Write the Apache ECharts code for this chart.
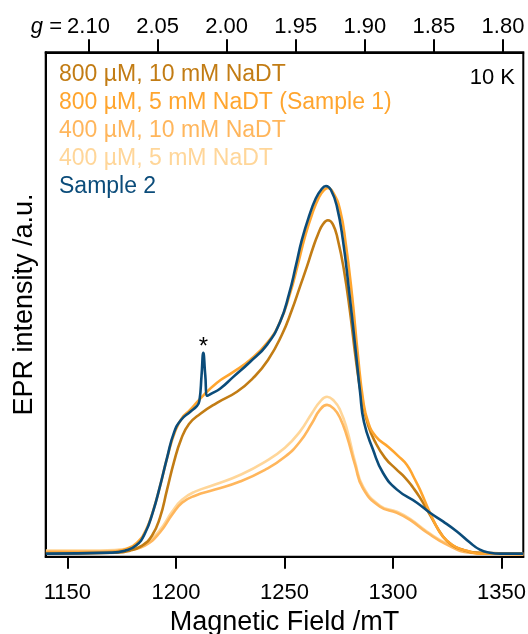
<!DOCTYPE html>
<html><head><meta charset="utf-8">
<script src="https://cdn.jsdelivr.net/npm/echarts@6/dist/echarts.min.js"></script>
<style>html,body{margin:0;padding:0;background:#fff}#c{width:528px;height:634px}</style>
</head><body><div id="c"></div>
<script>
// Magnetic field (mT) and EPR intensity (a.u., 0-100 scale)
const field800_10 = [1140.1,1171.9,1178.8,1184.4,1189.0,1192.6,1195.9,1199.1,1202.3,1206.0,1211.1,1218.9,1228.1,1235.5,1242.4,1248.8,1253.4,1257.1,1260.4,1263.1,1265.4,1267.7,1270.0,1272.3,1274.6,1277.4,1280.2,1282.9,1285.7,1288.5,1291.7,1296.3,1301.3,1305.5,1309.2,1312.4,1317.0,1323.0,1327.6,1332.2,1337.7,1360];
const int800_10 = [0.6,0.8,1.2,2.2,4.2,7.7,13.3,18.8,23.2,26.3,28.3,30.5,32.7,35.4,39.0,44.0,48.9,53.5,57.6,61.2,63.9,65.9,66.7,65.9,62.8,56.8,48.5,39.0,31.1,26.1,22.8,19.6,17.4,15.7,13.7,11.7,8.3,4.0,2.2,1.4,0.8,0.6];

const field800_5 = [1140.1,1165.0,1171.9,1177.4,1182.1,1186.2,1189.9,1193.1,1196.3,1199.6,1202.8,1206.5,1211.1,1218.9,1226.3,1234.1,1242.4,1247.9,1252.5,1256.2,1259.4,1262.7,1265.9,1268.2,1270.0,1272.3,1275.6,1278.3,1281.1,1283.8,1286.2,1288.5,1292.1,1297.7,1302.3,1306.4,1309.6,1312.4,1317.0,1321.6,1325.3,1329.4,1335.4,1340.0,1360];
const int800_5 = [0.8,0.8,1.0,1.6,2.8,5.3,9.7,14.7,20.2,24.8,27.5,29.1,31.3,34.5,36.6,39.0,42.6,46.5,52.1,58.0,63.4,67.9,71.3,72.7,73.1,72.3,68.7,61.8,51.9,40.0,31.1,26.7,23.8,21.8,20.0,18.2,15.7,13.3,8.7,4.8,3.0,1.8,1.0,0.6,0.6];

const field400 = [1140.1,1165.0,1178.8,1185.7,1192.6,1198.2,1202.8,1208.8,1218.0,1229.5,1241.0,1250.2,1257.1,1262.7,1266.3,1269.6,1272.8,1275.6,1278.8,1282.5,1286.2,1294.0,1301.8,1307.8,1315.6,1324.8,1335.4,1344.6,1360];
const int400_10 = [1.0,1.0,1.4,2.2,4.8,8.3,10.7,12.1,13.3,14.9,17.2,19.8,22.8,26.5,29.1,30.1,29.3,27.5,23.8,18.2,13.5,9.9,8.7,7.3,4.8,2.4,0.8,0.6,0.4];
const int400_5 = [1.2,1.2,1.6,2.4,5.3,8.9,11.3,12.9,14.3,16.2,18.8,21.6,24.8,28.5,30.7,31.7,30.9,29.1,25.2,18.8,13.9,10.1,8.9,7.5,5.0,2.6,1.0,0.6,0.4];

const fieldS2 = [1140.1,1169.6,1176.5,1181.6,1185.7,1189.4,1192.6,1195.9,1199.1,1202.3,1206.5,1209.7,1210.8,1211.8,1212.6,1213.5,1214.5,1216.1,1220.3,1226.3,1234.1,1241.9,1247.9,1252.1,1255.3,1258.0,1261.3,1264.5,1266.8,1269.1,1271.4,1274.2,1276.9,1279.7,1282.5,1284.8,1286.6,1290.8,1295.4,1301.8,1311.0,1317.0,1323.0,1329.4,1335.4,1340.0,1344.6,1349.3,1360];
const intS2 = [0.6,0.8,1.2,2.2,4.6,8.9,13.9,19.6,24.6,27.1,28.7,29.9,30.9,36.0,40.4,36.0,31.9,32.3,33.3,35.6,38.6,42.0,46.5,52.1,57.8,62.8,67.5,71.1,72.7,73.5,72.7,69.3,62.8,52.9,42.0,32.7,26.7,21.2,16.6,13.3,10.7,8.7,7.0,5.0,2.8,1.4,0.8,0.6,0.6];

const names = ['800 µM, 10 mM NaDT','800 µM, 5 mM NaDT (Sample 1)','400 µM, 10 mM NaDT','400 µM, 5 mM NaDT','Sample 2'];
const colors = ['#C27C14','#FFA52E','#FFB65C','#FFD699','#0B4C7A'];
const fieldTicks = [1150,1200,1250,1300,1350];
const gTicks = [2.10,2.05,2.00,1.95,1.90,1.85,1.80];
const spikeField = 1212.6, spikeInt = 40.4;

const FONT = 'Liberation Sans, Arial, sans-serif';
const zip = (a,b) => a.map((v,i)=>[v,b[i]]);
const chart = echarts.init(document.getElementById('c'), null, {renderer:'canvas'});

function line(name, color, xs, ys, z, extra){
  return Object.assign({
    name, type:'line', xAxisIndex:0, yAxisIndex:0, data: zip(xs,ys),
    showSymbol:false, symbol:'none', smooth:0.5,
    lineStyle:{color, width:2.6}, itemStyle:{color}, z, animation:false
  }, extra||{});
}

chart.setOption({
  animation:false,
  backgroundColor:'#fff',
  textStyle:{fontFamily:FONT},
  grid:{left:45.7, right:4.7, top:52.3, bottom:77.3, outerBoundsMode:'none', containLabel:false,
    show:true, borderColor:'#000', borderWidth:2, backgroundColor:'transparent'},
  title:{text:'10 K', right:8, top:62, textStyle:{fontFamily:FONT, fontSize:22, fontWeight:'normal', color:'#000'}},
  legend:{orient:'vertical', left:54, top:61, padding:0, itemGap:0, itemWidth:0, itemHeight:0, icon:'none', selectedMode:false,
    textStyle:{fontFamily:FONT, fontSize:23, lineHeight:28},
    data: names.map((n,i)=>({name:n, textStyle:{color:colors[i]}}))},
  xAxis:[
    {type:'value', position:'bottom', min:1140, max:1360,
     name:'Magnetic Field /mT', nameLocation:'middle', nameGap:43,
     nameTextStyle:{fontFamily:FONT, fontSize:27, color:'#000'},
     axisLine:{show:true, lineStyle:{color:'#000', width:2}},
     axisTick:{show:true, inside:false, length:12, lineStyle:{color:'#000', width:2}, customValues:fieldTicks},
     axisLabel:{show:true, margin:25, fontFamily:FONT, fontSize:22, color:'#000', customValues:fieldTicks, formatter:v=>String(Math.round(v))},
     splitLine:{show:false}},
    {type:'value', position:'top', inverse:true, min:1.7853, max:2.131,
     axisLine:{show:true, lineStyle:{color:'#000', width:2}},
     axisTick:{show:true, inside:false, length:13, lineStyle:{color:'#000', width:2}, customValues:gTicks},
     axisLabel:{show:true, margin:14, fontFamily:FONT, fontSize:22, color:'#000', customValues:gTicks, formatter:v=>Number(v).toFixed(2)},
     splitLine:{show:false}}
  ],
  yAxis:{type:'value', min:0, max:100,
    name:'EPR intensity /a.u.', nameLocation:'middle', nameGap:8,
    nameTextStyle:{fontFamily:FONT, fontSize:27, color:'#000'},
    axisLine:{show:true, lineStyle:{color:'#000', width:2}},
    axisTick:{show:false}, axisLabel:{show:false}, splitLine:{show:false}},
  graphic:[{type:'text', x:62, y:27, style:{text:'{i|g} =', textAlign:'right', textVerticalAlign:'middle',
    rich:{i:{fontStyle:'italic', fontFamily:FONT, fontSize:22, fill:'#000'}}, font:'22px '+FONT, fill:'#000'}}],
  series:[
    line(names[3], colors[3], field400, int400_5, 2),
    line(names[2], colors[2], field400, int400_10, 3),
    line(names[0], colors[0], field800_10, int800_10, 4),
    line(names[1], colors[1], field800_5, int800_5, 5),
    line(names[4], colors[4], fieldS2, intS2, 6, {
      markPoint:{symbol:'circle', symbolSize:0, silent:true, animation:false,
        label:{show:true, formatter:'*', position:'top', distance:0, offset:[0,6], fontFamily:FONT, fontSize:24, color:'#000'},
        data:[{coord:[spikeField, spikeInt]}]}
    })
  ]
});
</script></body></html>
